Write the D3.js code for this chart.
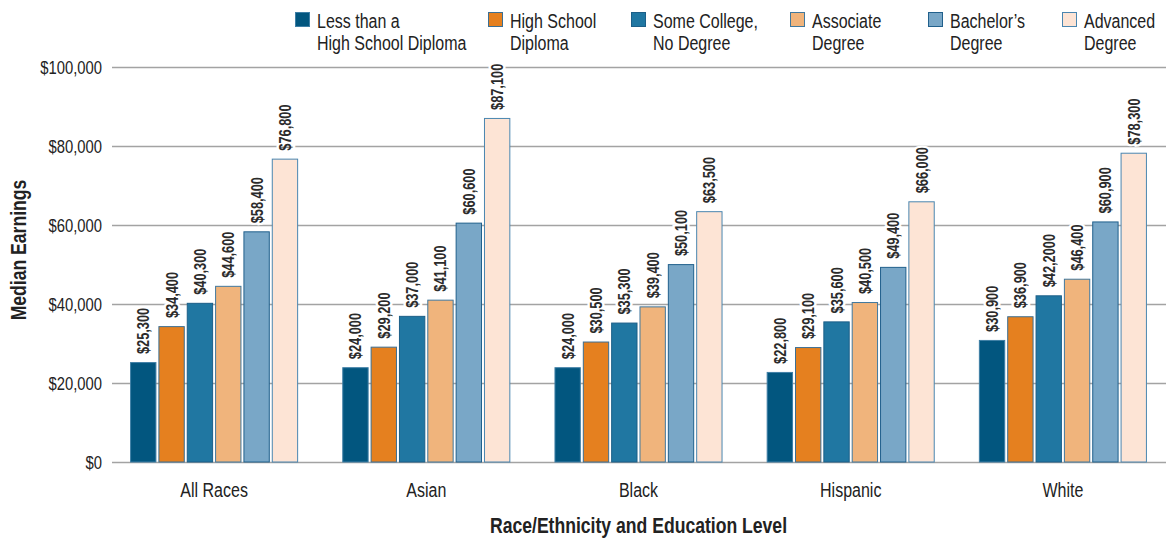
<!DOCTYPE html>
<html>
<head>
<meta charset="utf-8">
<script src="https://cdn.jsdelivr.net/npm/d3@7"></script>
<style>
  body { margin: 0; background: #fff; }
  svg { display: block; font-family: "Liberation Sans", Arial, sans-serif; }
</style>
</head>
<body>
<script>
var width = 1166,
    height = 540;

var groups = ["All Races", "Asian", "Black", "Hispanic", "White"];

var levels = ["Less than a\nHigh School Diploma", "High School\nDiploma", "Some College,\nNo Degree",
    "Associate\nDegree", "Bachelor\u2019s\nDegree", "Advanced\nDegree"];

var lessThanHS   = [25300, 24000, 24000, 22800, 30900];
var highSchool   = [34400, 29200, 30500, 29100, 36900];
var someCollege  = [40300, 37000, 35300, 35600, 42200];
var associate    = [44600, 41100, 39400, 40500, 46400];
var bachelors    = [58400, 60600, 50100, 49400, 60900];
var advanced     = [76800, 87100, 63500, 66000, 78300];

var yTicks = [0, 20000, 40000, 60000, 80000, 100000];

// the source prints this one label with an extra zero
var labelOverrides = { "White|2": "$42,2000" };

var colors = ["#02567f", "#e5801f", "#2077a2", "#f0b47c", "#79a7c7", "#fde4d5"];
var strokes = ["#3f7fa6", "#3b6f94", "#1c5f88", "#40789e", "#21608c", "#4a86b0"];

var series = [lessThanHS, highSchool, someCollege, associate, bachelors, advanced];

// no condensed face is installed, so squeeze the text horizontally
var squeeze = 0.8;

var x0 = d3.scaleBand()
    .domain(groups)
    .range([108, 1169])
    .paddingInner(0.208)
    .paddingOuter(0.104);

var x1 = d3.scaleBand()
    .domain(d3.range(levels.length))
    .range([0, x0.bandwidth()])
    .paddingInner(0.07)
    .paddingOuter(0);

var y = d3.scaleLinear()
    .domain([0, 100000])
    .range([462, 67]);

var fmt = d3.format("$,");

var svg = d3.select("body")
    .append("svg")
    .attr("width", width)
    .attr("height", height);

// grid + y axis
var yAxis = svg.append("g")
    .attr("transform", "translate(112,0)")
    .call(d3.axisLeft(y).tickValues(yTicks).tickSize(-(width - 112)).tickFormat(fmt));

yAxis.select(".domain").remove();
yAxis.selectAll(".tick line")
    .attr("stroke", "#a3a3a3")
    .attr("stroke-width", 1.5);
yAxis.selectAll(".tick text")
    .attr("x", 0)
    .attr("dy", "0.35em")
    .attr("transform", "translate(-10,0) scale(" + squeeze + ",1)")
    .attr("fill", "#222")
    .style("font-size", "18.5px")
    .style("font-family", "inherit");

svg.append("text")
    .attr("transform", "translate(26,250) rotate(-90) scale(" + squeeze + ",1)")
    .attr("text-anchor", "middle")
    .attr("font-weight", "bold")
    .attr("font-size", "22px")
    .attr("fill", "#222")
    .text("Median Earnings");

// bars
var rows = [];
groups.forEach(function (g, gi) {
    series.forEach(function (s, si) {
        rows.push({ group: g, level: si, value: s[gi] });
    });
});

svg.append("g").selectAll("rect")
    .data(rows)
    .enter()
    .append("rect")
    .attr("x", function (d) { return x0(d.group) + x1(d.level) + 0.5; })
    .attr("y", function (d) { return y(d.value) + 0.5; })
    .attr("width", x1.bandwidth() - 1)
    .attr("height", function (d) { return y(0) - y(d.value) - 0.5; })
    .attr("fill", function (d) { return colors[d.level]; })
    .attr("stroke", function (d) { return strokes[d.level]; })
    .attr("stroke-width", 1);

// value labels
svg.append("g").selectAll("text")
    .data(rows)
    .enter()
    .append("text")
    .attr("transform", function (d) {
        var cx = x0(d.group) + x1(d.level) + x1.bandwidth() / 2 + 6;
        return "translate(" + cx + "," + (y(d.value) - 8) + ") rotate(-90) scale(" + squeeze + ",1)";
    })
    .attr("font-size", "16px")
    .attr("font-weight", "bold")
    .attr("fill", "#2b2b2b")
    .attr("stroke", "#fff")
    .attr("stroke-width", 5)
    .attr("paint-order", "stroke")
    .text(function (d) {
        var key = d.group + "|" + d.level;
        return labelOverrides[key] || fmt(d.value);
    });

// x category labels
svg.append("g").selectAll("text")
    .data(groups)
    .enter()
    .append("text")
    .attr("transform", function (d) {
        return "translate(" + (x0(d) + x0.bandwidth() / 2) + ",497) scale(" + squeeze + ",1)";
    })
    .attr("text-anchor", "middle")
    .attr("font-size", "20px")
    .attr("fill", "#222")
    .text(function (d) { return d; });

svg.append("text")
    .attr("transform", "translate(" + ((x0.range()[0] + x0.range()[1]) / 2) + ",533) scale(" + squeeze + ",1)")
    .attr("text-anchor", "middle")
    .attr("font-weight", "bold")
    .attr("font-size", "22px")
    .attr("fill", "#222")
    .text("Race/Ethnicity and Education Level");

// legend
var legendX = [295, 488, 631, 790, 928, 1062];

var legend = svg.append("g").selectAll("g")
    .data(levels)
    .enter()
    .append("g")
    .attr("transform", function (d, i) { return "translate(" + legendX[i] + ",0)"; });

legend.append("rect")
    .attr("x", 0.5)
    .attr("y", 12.5)
    .attr("width", 14)
    .attr("height", 14)
    .attr("fill", function (d, i) { return colors[i]; })
    .attr("stroke", function (d, i) { return strokes[i]; });

legend.append("text")
    .attr("transform", "translate(22,0) scale(" + squeeze + ",1)")
    .attr("font-size", "20px")
    .attr("fill", "#222")
    .selectAll("tspan")
    .data(function (d) { return d.split("\n"); })
    .enter()
    .append("tspan")
    .attr("x", 0)
    .attr("y", function (d, i) { return 28 + i * 22; })
    .text(function (d) { return d; });
</script>
</body>
</html>
